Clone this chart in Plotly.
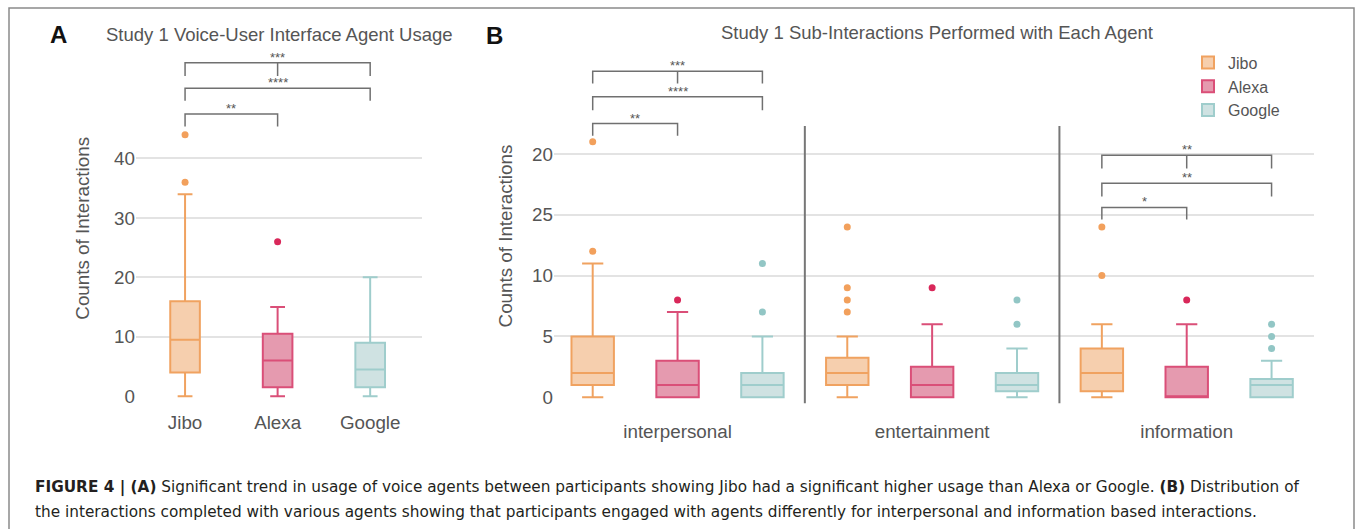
import plotly.graph_objects as go

# ---------------- data ----------------
agents = ["Jibo", "Alexa", "Google"]
line_colors = ["#F0A260", "#DA4F78", "#9FCDCC"]
fill_colors = ["#F6CFAE", "#E59AAF", "#CFE2E2"]
dot_colors = ["#F2A05C", "#D9285A", "#92C6C5"]

# Panel A: overall usage (box stats)
a_q1 = [4, 1.5, 1.5]
a_median = [9.5, 6, 4.5]
a_q3 = [16, 10.5, 9]
a_low = [0, 0, 0]
a_high = [34, 15, 20]
a_outliers = [[36, 44], [26], []]

# Panel B: sub-interactions
categories = ["interpersonal", "entertainment", "information"]
b_q1 = {"Jibo": [1, 1, 0.5], "Alexa": [0, 0, 0], "Google": [0, 0.5, 0]}
b_median = {"Jibo": [2, 2, 2], "Alexa": [1, 1, 0], "Google": [1, 1, 1]}
b_q3 = {"Jibo": [5, 3.25, 4], "Alexa": [3, 2.5, 2.5], "Google": [2, 2, 1.5]}
b_low = {"Jibo": [0, 0, 0], "Alexa": [0, 0, 0], "Google": [0, 0, 0]}
b_high = {"Jibo": [11, 5, 6], "Alexa": [7, 6, 6], "Google": [5, 4, 3]}
b_outliers = {
    "Jibo": [[12, 21], [7, 8, 9, 14], [10, 14]],
    "Alexa": [[8], [9], [8]],
    "Google": [[7, 11], [6, 8], [4, 5, 6]],
}
b_tickvals = [0, 5, 10, 15, 20]
b_ticktext = ["0", "5", "10", "25", "20"]

# significance brackets: (from index, to index, top, leg bottom, label, middle tick index)
a_brackets = [
    (0, 1, 47.5, 45.4, "**", None),
    (0, 2, 51.8, 49.7, "****", None),
    (0, 2, 56.1, 53.9, "***", 1),
]
b_brackets = [
    (0, 1, 22.5, 21.5, "**", None),
    (0, 2, 24.7, 23.6, "****", None),
    (0, 2, 26.8, 25.8, "***", 1),
    (6, 7, 15.6, 14.6, "*", None),
    (6, 8, 17.6, 16.5, "**", None),
    (6, 8, 19.9, 18.8, "**", 7),
]

caption_1 = ("<b>FIGURE 4 | (A)</b> Significant trend in usage of voice agents between participants showing Jibo "
             "had a significant higher usage than Alexa or Google. <b>(B)</b> Distribution of")
caption_2 = ("the interactions completed with various agents showing that participants engaged with agents "
             "differently for interpersonal and information based interactions.")

# ---------------- figure ----------------
W, H = 1355, 529
FONT = "Liberation Sans, Arial, sans-serif"
CAP_FONT = "DejaVu Sans, sans-serif"
GRAY = "#555555"
BRK = "#707070"

def px_x(p):
    return p / W

def px_y(p):
    return 1 - p / H

fig = go.Figure()

# Panel A boxes
for i, ag in enumerate(agents):
    fig.add_trace(go.Box(
        x=[i], q1=[a_q1[i]], median=[a_median[i]], q3=[a_q3[i]],
        lowerfence=[a_low[i]], upperfence=[a_high[i]],
        width=0.32, whiskerwidth=0.5, boxpoints=False,
        line=dict(color=line_colors[i], width=2), fillcolor=fill_colors[i],
        name=ag, showlegend=False, xaxis="x", yaxis="y",
    ))
    if a_outliers[i]:
        fig.add_trace(go.Scatter(
            x=[i] * len(a_outliers[i]), y=a_outliers[i], mode="markers",
            marker=dict(color=dot_colors[i], size=7), showlegend=False,
            xaxis="x", yaxis="y", hoverinfo="y",
        ))

# Panel B boxes
for i, ag in enumerate(agents):
    xs = [c * 3 + i for c in range(len(categories))]
    fig.add_trace(go.Box(
        x=xs, q1=b_q1[ag], median=b_median[ag], q3=b_q3[ag],
        lowerfence=b_low[ag], upperfence=b_high[ag],
        width=0.5, whiskerwidth=0.5, boxpoints=False,
        line=dict(color=line_colors[i], width=2), fillcolor=fill_colors[i],
        name=ag, showlegend=True, xaxis="x2", yaxis="y2",
    ))
    ox, oy = [], []
    for c, vals in enumerate(b_outliers[ag]):
        ox += [c * 3 + i] * len(vals)
        oy += vals
    fig.add_trace(go.Scatter(
        x=ox, y=oy, mode="markers", marker=dict(color=dot_colors[i], size=7),
        showlegend=False, xaxis="x2", yaxis="y2", hoverinfo="y",
    ))

shapes = []
annotations = []

def add_brackets(brackets, xref, yref, fsize):
    for (x0, x1, yt, yl, lab, mid) in brackets:
        shapes.append(dict(type="path", xref=xref, yref=yref,
                           path=f"M {x0},{yl} L {x0},{yt} L {x1},{yt} L {x1},{yl}",
                           line=dict(color=BRK, width=1.5)))
        if mid is not None:
            shapes.append(dict(type="line", xref=xref, yref=yref, x0=mid, x1=mid, y0=yt, y1=yl,
                               line=dict(color=BRK, width=1.5)))
        annotations.append(dict(x=(x0 + x1) / 2, y=yt, xref=xref, yref=yref, text=lab,
                                showarrow=False, xanchor="center", yanchor="bottom", yshift=-4,
                                font=dict(size=fsize, color=GRAY, family=FONT)))

add_brackets(a_brackets, "x", "y", 13)
add_brackets(b_brackets, "x2", "y2", 13)

# dividers between categories in panel B
for xd in [2.5, 5.5]:
    shapes.append(dict(type="line", xref="x2", yref="y2", x0=xd, x1=xd, y0=-0.5, y1=22.3,
                       line=dict(color="#777777", width=2)))

# outer frame
shapes.append(dict(type="rect", xref="paper", yref="paper", x0=px_x(9), x1=px_x(1354),
                   y0=-0.2, y1=px_y(8), line=dict(color="#8a8a8a", width=1.5)))

# titles and caption
annotations += [
    dict(x=px_x(58), y=px_y(35), xref="paper", yref="paper", text="<b>A</b>", showarrow=False,
         xanchor="center", yanchor="middle", font=dict(size=24, color="#111111", family=FONT)),
    dict(x=px_x(494), y=px_y(36), xref="paper", yref="paper", text="<b>B</b>", showarrow=False,
         xanchor="center", yanchor="middle", font=dict(size=24, color="#111111", family=FONT)),
    dict(x=px_x(104), y=px_y(35), xref="paper", yref="paper", xanchor="left", yanchor="middle",
         text="Study 1 Voice-User Interface Agent Usage", showarrow=False,
         font=dict(size=18.5, color=GRAY, family=FONT)),
    dict(x=px_x(937), y=px_y(33), xref="paper", yref="paper", xanchor="center", yanchor="middle",
         text="Study 1 Sub-Interactions Performed with Each Agent", showarrow=False,
         font=dict(size=18.5, color=GRAY, family=FONT)),
    dict(x=px_x(33), y=px_y(492), xref="paper", yref="paper", xanchor="left", yanchor="middle",
         text=caption_1, showarrow=False, font=dict(size=15.3, color="#231F20", family=CAP_FONT)),
    dict(x=px_x(33), y=px_y(517), xref="paper", yref="paper", xanchor="left", yanchor="middle",
         text=caption_2, showarrow=False, font=dict(size=15.3, color="#231F20", family=CAP_FONT)),
]

axis_font = dict(size=18.8, color=GRAY, family=FONT)
grid = "#E3E3E3"

fig.update_layout(
    width=W, height=H, autosize=False,
    margin=dict(l=0, r=0, t=0, b=0),
    paper_bgcolor="white", plot_bgcolor="white",
    boxmode="overlay",
    font=dict(family=FONT, color=GRAY),
    shapes=shapes, annotations=annotations,
    xaxis=dict(domain=[px_x(136), px_x(422)], range=[-0.53, 2.56],
               tickvals=[0, 1, 2], ticktext=agents, tickfont=axis_font,
               showgrid=False, zeroline=False, showline=False,
               ticks="outside", ticklen=3, tickcolor="rgba(0,0,0,0)"),
    yaxis=dict(domain=[px_y(406), px_y(55)], range=[-1.0, 57.5],
               tickvals=[0, 10, 20, 30, 40], tickfont=axis_font,
               showgrid=False, zeroline=False, showline=False,
               minor=dict(tickvals=[10, 20, 30, 40], showgrid=True, gridcolor=grid, gridwidth=1.5, ticks=""),
               title=dict(text="Counts of Interactions", font=axis_font, standoff=19)),
    xaxis2=dict(domain=[px_x(554), px_x(1314)], range=[-0.456, 8.5],
                tickvals=[1, 4, 7], ticktext=categories, tickfont=axis_font,
                showgrid=False, zeroline=False, showline=False,
                ticks="outside", ticklen=5, tickcolor="rgba(0,0,0,0)", anchor="y2"),
    yaxis2=dict(domain=[px_y(413.3), px_y(63.3)], range=[-1.0, 27.5],
                tickvals=b_tickvals, ticktext=b_ticktext, tickfont=axis_font,
                showgrid=False, zeroline=False, showline=False, anchor="x2",
                minor=dict(tickvals=[5, 10, 15, 20], showgrid=True, gridcolor=grid, gridwidth=1.5, ticks=""),
                title=dict(text="Counts of Interactions", font=axis_font, standoff=14)),
    legend=dict(x=px_x(1188), y=px_y(46), xanchor="left", yanchor="top",
                font=dict(size=16, color=GRAY, family=FONT), bgcolor="rgba(0,0,0,0)",
                tracegroupgap=0, itemwidth=30),
)

fig.write_html("out.html", config={"displayModeBar": False},
               post_script="document.body.style.margin='0';")
